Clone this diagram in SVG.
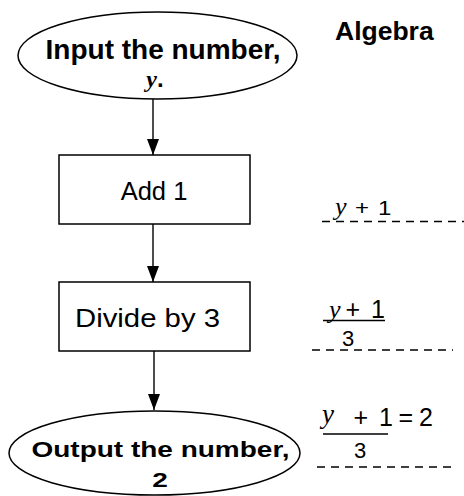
<svg xmlns="http://www.w3.org/2000/svg" width="464" height="496" viewBox="0 0 464 496">
<style>
.shape{fill:#fff;stroke:#000;stroke-width:1.5}
.bold{font-family:"Liberation Sans",Arial,sans-serif;font-weight:bold;fill:#000}
.reg{font-family:"Liberation Sans",Arial,sans-serif;fill:#000}
.it{font-family:"Liberation Serif","Times New Roman",serif;font-style:italic;fill:#000}
.conn{stroke:#000;stroke-width:1.4;fill:none}
.dash{stroke:#000;stroke-width:1.3;stroke-dasharray:8 6;fill:none}
.frac{stroke:#000;stroke-width:1.6}
</style>
<defs>
<marker id="arrow" markerUnits="userSpaceOnUse" markerWidth="17" markerHeight="14" refX="16" refY="6" orient="auto">
<path d="M0,0 L16,6 L0,12 Z" fill="#000"/>
</marker>
</defs>
<g id="connectors">
<line class="conn" x1="153" y1="99" x2="153" y2="155" marker-end="url(#arrow)"/>
<line class="conn" x1="153" y1="224" x2="153" y2="282" marker-end="url(#arrow)"/>
<line class="conn" x1="154" y1="351" x2="154" y2="410" marker-end="url(#arrow)"/>
</g>
<g id="input">
<ellipse class="shape" cx="157.5" cy="55.5" rx="139.5" ry="43.5"/>
<text class="bold" x="163" y="59" font-size="28" text-anchor="middle">Input the number,</text>
<text x="155" y="87" font-size="24" text-anchor="middle"><tspan class="it" font-weight="bold">y</tspan><tspan class="bold">.</tspan></text>
</g>
<g id="add1">
<rect class="shape" x="59" y="155" width="191" height="69"/>
<text class="reg" x="154" y="200" font-size="25.5" text-anchor="middle">Add 1</text>
</g>
<g id="divide">
<rect class="shape" x="59" y="282" width="191" height="69"/>
<text class="reg" x="75" y="327" font-size="25.5" textLength="145" lengthAdjust="spacingAndGlyphs">Divide by 3</text>
</g>
<g id="output">
<ellipse class="shape" cx="154.5" cy="453" rx="145.5" ry="42"/>
<text class="bold" font-size="28" text-anchor="middle" transform="translate(160.5,457) scale(1,0.8)">Output the number,</text>
<text class="bold" font-size="28" text-anchor="middle" transform="translate(160,487) scale(1,0.75)">2</text>
</g>
<g id="algebra">
<text class="bold" x="335" y="40" font-size="26.5">Algebra</text>
<line class="dash" x1="322" y1="221.5" x2="464" y2="221.5"/>
<text class="it" x="335" y="215" font-size="26">y</text>
<text class="reg" x="355" y="215" font-size="24" transform="translate(0,215) scale(1,0.85) translate(0,-215)">+</text>
<text class="reg" x="378" y="215" font-size="24" transform="translate(0,215) scale(1,0.85) translate(0,-215)">1</text>

<text class="it" x="329" y="318" font-size="26">y</text>
<text class="reg" x="345.5" y="318" font-size="25">+</text>
<text class="reg" x="371" y="318" font-size="25">1</text>
<line class="frac" x1="323" y1="320.5" x2="385" y2="320.5"/>
<text class="reg" x="342" y="346" font-size="22">3</text>
<line class="dash" x1="312" y1="350" x2="453" y2="350"/>

<text class="it" x="322" y="423" font-size="27">y</text>
<text class="reg" x="353.5" y="426" font-size="25">+</text>
<text class="reg" x="379" y="426" font-size="25">1</text>
<text class="reg" x="398.5" y="426" font-size="25">=</text>
<text class="reg" x="419" y="426" font-size="25">2</text>
<line class="frac" x1="323" y1="434" x2="388" y2="434"/>
<text class="reg" x="354" y="458" font-size="22">3</text>
<line class="dash" x1="317" y1="467" x2="457" y2="467"/>
</g>
</svg>
